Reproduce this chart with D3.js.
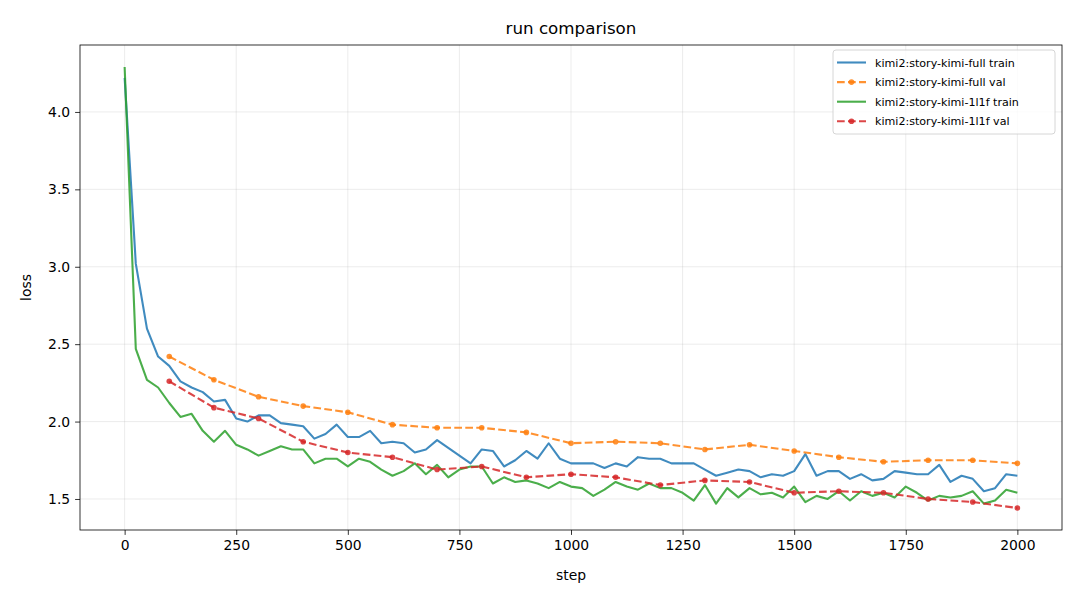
<!DOCTYPE html>
<meta charset="utf-8">
<style>
body { margin: 0; background: #fff; }
svg text { font-family: "DejaVu Sans", sans-serif; fill: #000; }
.grid line { stroke: #b0b0b0; stroke-opacity: 0.3; stroke-width: 0.8px; }
.axis path, .axis line { stroke: #000; stroke-width: 0.8px; }
.axis text { font-size: 13.9px; }
</style>
<body>
<svg width="1080" height="600"></svg>
<script src="https://d3js.org/d3.v7.min.js"></script>
<script>

// train steps every 25, val steps every 100
var trainSteps = d3.range(0, 2001, 25);
var valSteps = d3.range(100, 2001, 100);

var fullTrain = [4.22, 3.02, 2.60, 2.42, 2.36, 2.26, 2.22, 2.19, 2.13, 2.14,
  2.02, 2.00, 2.04, 2.04, 1.99, 1.98, 1.97, 1.89, 1.92, 1.98,
  1.90, 1.90, 1.94, 1.86, 1.87, 1.86, 1.80, 1.82, 1.88, 1.83,
  1.78, 1.73, 1.82, 1.81, 1.71, 1.75, 1.81, 1.76, 1.86, 1.76,
  1.73, 1.73, 1.73, 1.70, 1.73, 1.71, 1.77, 1.76, 1.76, 1.73,
  1.73, 1.73, 1.69, 1.65, 1.67, 1.69, 1.68, 1.64, 1.66, 1.65,
  1.68, 1.79, 1.65, 1.68, 1.68, 1.63, 1.66, 1.62, 1.63, 1.68,
  1.67, 1.66, 1.66, 1.72, 1.61, 1.65, 1.63, 1.55, 1.57, 1.66, 1.65];

var fullVal = [2.42, 2.27, 2.16, 2.10, 2.06, 1.98, 1.96, 1.96, 1.93, 1.86,
  1.87, 1.86, 1.82, 1.85, 1.81, 1.77, 1.74, 1.75, 1.75, 1.73];

var l1fTrain = [4.29, 2.47, 2.27, 2.22, 2.12, 2.03, 2.05, 1.94, 1.87, 1.94,
  1.85, 1.82, 1.78, 1.81, 1.84, 1.82, 1.82, 1.73, 1.76, 1.76,
  1.71, 1.76, 1.74, 1.69, 1.65, 1.68, 1.73, 1.66, 1.72, 1.64,
  1.69, 1.71, 1.71, 1.60, 1.64, 1.61, 1.62, 1.60, 1.57, 1.61,
  1.58, 1.57, 1.52, 1.56, 1.61, 1.58, 1.56, 1.60, 1.57, 1.57,
  1.54, 1.49, 1.59, 1.47, 1.57, 1.51, 1.57, 1.53, 1.54, 1.51,
  1.58, 1.48, 1.52, 1.50, 1.55, 1.49, 1.55, 1.52, 1.54, 1.51,
  1.58, 1.54, 1.49, 1.52, 1.51, 1.52, 1.55, 1.47, 1.49, 1.56, 1.54];

var l1fVal = [2.26, 2.09, 2.02, 1.87, 1.80, 1.77, 1.69, 1.71, 1.64, 1.66,
  1.64, 1.59, 1.62, 1.61, 1.54, 1.55, 1.54, 1.50, 1.48, 1.442];

var seriesNames = ["kimi2:story-kimi-full train", "kimi2:story-kimi-full val",
  "kimi2:story-kimi-1l1f train", "kimi2:story-kimi-1l1f val"];
var seriesColors = ["#1f77b4", "#ff7f0e", "#2ca02c", "#d62728"];

var xTicks = d3.range(0, 2001, 250);
var yTicks = [1.5, 2.0, 2.5, 3.0, 3.5, 4.0];

var series = [
  {name: seriesNames[0], color: seriesColors[0], steps: trainSteps, values: fullTrain, val: false},
  {name: seriesNames[1], color: seriesColors[1], steps: valSteps, values: fullVal, val: true},
  {name: seriesNames[2], color: seriesColors[2], steps: trainSteps, values: l1fTrain, val: false},
  {name: seriesNames[3], color: seriesColors[3], steps: valSteps, values: l1fVal, val: true}
];

var svg = d3.select("svg");
var margin = {left: 80, right: 18, top: 45, bottom: 70};
var width = 1080 - margin.left - margin.right,
    height = 600 - margin.top - margin.bottom;

var allY = [].concat(fullTrain, fullVal, l1fTrain, l1fVal);
var yMin = d3.min(allY), yMax = d3.max(allY), yPad = (yMax - yMin) * 0.05;

var x = d3.scaleLinear().domain([-100, 2100]).range([0, width]);
var y = d3.scaleLinear().domain([yMin - yPad, yMax + yPad]).range([height, 0]);

var g = svg.append("g").attr("transform", "translate(" + margin.left + "," + margin.top + ")");

// grid
var grid = g.append("g").attr("class", "grid");
grid.selectAll(".gx").data(xTicks).enter().append("line")
    .attr("x1", function(d) { return x(d); }).attr("x2", function(d) { return x(d); })
    .attr("y1", 0).attr("y2", height);
grid.selectAll(".gy").data(yTicks).enter().append("line")
    .attr("y1", function(d) { return y(d); }).attr("y2", function(d) { return y(d); })
    .attr("x1", 0).attr("x2", width);

var line = d3.line()
    .x(function(d) { return x(d[0]); })
    .y(function(d) { return y(d[1]); });

series.forEach(function(s) {
  var pts = s.steps.map(function(st, i) { return [st, s.values[i]]; });
  g.append("path")
      .datum(pts)
      .attr("fill", "none")
      .attr("stroke", s.color)
      .attr("stroke-opacity", 0.85)
      .attr("stroke-width", 2.1)
      .attr("stroke-linejoin", "round")
      .attr("stroke-dasharray", s.val ? "7.7,3.3" : null)
      .attr("d", line);
  if (s.val) {
    g.append("g").selectAll("circle").data(pts).enter().append("circle")
        .attr("cx", function(d) { return x(d[0]); })
        .attr("cy", function(d) { return y(d[1]); })
        .attr("r", 2.8)
        .attr("fill", s.color)
        .attr("fill-opacity", 0.85);
  }
});

// axes
var xAxis = g.append("g").attr("class", "axis")
    .attr("transform", "translate(0," + height + ")")
    .call(d3.axisBottom(x).tickValues(xTicks).tickSize(4.9).tickPadding(4.9).tickFormat(d3.format("d")));
var yAxis = g.append("g").attr("class", "axis")
    .call(d3.axisLeft(y).tickValues(yTicks).tickSize(4.9).tickPadding(4.9).tickFormat(d3.format(".1f")));
xAxis.select(".domain").remove();
yAxis.select(".domain").remove();

g.append("rect")
    .attr("width", width).attr("height", height)
    .attr("fill", "none").attr("stroke", "#000").attr("stroke-width", 0.8);

// labels
svg.append("text").attr("x", margin.left + width / 2).attr("y", 34)
    .attr("text-anchor", "middle").style("font-size", "16.7px").text("run comparison");
svg.append("text").attr("x", margin.left + width / 2).attr("y", 580)
    .attr("text-anchor", "middle").style("font-size", "13.9px").text("step");
svg.append("text").attr("transform", "translate(31," + (margin.top + height / 2) + ") rotate(-90)")
    .attr("text-anchor", "middle").style("font-size", "13.9px").text("loss");

// legend
var legend = svg.append("g").attr("transform", "translate(833,50)");
legend.append("rect")
    .attr("width", 222).attr("height", 84).attr("rx", 3)
    .attr("fill", "#fff").attr("fill-opacity", 0.8)
    .attr("stroke", "#cccccc").attr("stroke-width", 0.8);
series.forEach(function(s, i) {
  var row = legend.append("g").attr("transform", "translate(0," + (12.5 + i * 19.6) + ")");
  row.append("line")
      .attr("x1", 4).attr("x2", 33).attr("y1", 0).attr("y2", 0)
      .attr("stroke", s.color).attr("stroke-opacity", 0.85).attr("stroke-width", 2.1)
      .attr("stroke-dasharray", s.val ? "7.7,3.3" : null);
  if (s.val) {
    row.append("circle").attr("cx", 18.5).attr("cy", 0).attr("r", 2.8)
        .attr("fill", s.color).attr("fill-opacity", 0.85);
  }
  row.append("text").attr("x", 42).attr("y", 4)
      .style("font-size", "11.1px").text(s.name);
});

</script>
</body>
